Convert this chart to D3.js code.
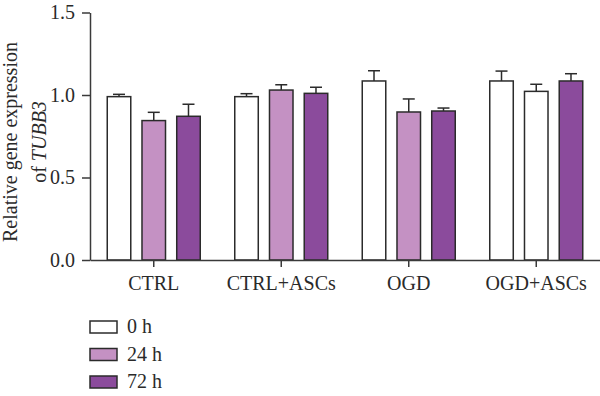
<!DOCTYPE html>
<html lang="en">
<head>
<meta charset="UTF-8">
<title>Relative gene expression of TUBB3</title>
<script src="https://d3js.org/d3.v7.min.js"></script>
<style>
  body { margin: 0; background: #fff; }
  svg { display: block; font-family: "Liberation Serif", "DejaVu Serif", serif; }
  .axis path, .axis line { stroke: #3a3a3a; stroke-width: 1.5; }
  .axis text { font-size: 20px; fill: #2a2a2a; font-family: "Liberation Serif", serif; }
</style>
</head>
<body>
<svg id="chart" width="600" height="396"></svg>
<script>
// groups and time points
const groups = ["CTRL", "CTRL+ASCs", "OGD", "OGD+ASCs"];
const series = ["0 h", "24 h", "72 h"];

// mean values, one array per time point (in group order)
const mean0h  = [0.99, 0.99, 1.085, 1.085];
const mean24h = [0.845, 1.03, 0.897, 1.022];
const mean72h = [0.871, 1.01, 0.903, 1.085];

// upper error (SD) per time point
const err0h  = [0.014, 0.018, 0.062, 0.06];
const err24h = [0.05, 0.032, 0.079, 0.043];
const err72h = [0.073, 0.037, 0.018, 0.044];

const yTicks = [0, 0.5, 1.0, 1.5];

const colors = { "0 h": "#ffffff", "24 h": "#c491c3", "72 h": "#8b4b9c" };
// the reference draws this one bar unfilled
const unfilled = [["OGD+ASCs", "24 h"]];

const means = [mean0h, mean24h, mean72h];
const errs = [err0h, err24h, err72h];
const rows = [];
groups.forEach((g, gi) => {
  series.forEach((s, si) => {
    rows.push({ group: g, series: s, value: means[si][gi], err: errs[si][gi] });
  });
});

const svg = d3.select("#chart");
const x0 = d3.scaleBand().domain(groups).range([90, 600]).padding(0);
const x1 = d3.scaleBand().domain(series).range([-46.5, 46.5]).paddingInner(0.323).paddingOuter(0);
const y = d3.scaleLinear().domain([0, 1.5]).range([260, 12.5]);

// y axis
svg.append("g").attr("class", "axis")
  .attr("transform", "translate(90,0)")
  .call(d3.axisLeft(y).tickValues(yTicks).tickFormat(d3.format(".1f")).tickSize(8).tickSizeOuter(0).tickPadding(7));

// bars
const fillOf = d => unfilled.some(u => u[0] === d.group && u[1] === d.series) ? "#ffffff" : colors[d.series];
svg.append("g").selectAll("rect").data(rows).enter().append("rect")
  .attr("x", d => x0(d.group) + x0.bandwidth() / 2 + x1(d.series))
  .attr("y", d => y(d.value))
  .attr("width", x1.bandwidth())
  .attr("height", d => y(0) - y(d.value))
  .attr("fill", fillOf)
  .attr("stroke", "#2b2b2b")
  .attr("stroke-width", 1.5);

// error bars (upper only)
const eb = svg.append("g").attr("stroke", "#2b2b2b").attr("stroke-width", 1.5);
rows.forEach(d => {
  const cx = x0(d.group) + x0.bandwidth() / 2 + x1(d.series) + x1.bandwidth() / 2;
  eb.append("line").attr("x1", cx).attr("x2", cx).attr("y1", y(d.value)).attr("y2", y(d.value + d.err));
  eb.append("line").attr("x1", cx - 6).attr("x2", cx + 6).attr("y1", y(d.value + d.err)).attr("y2", y(d.value + d.err));
});

// x axis
const xAxis = svg.append("g").attr("class", "axis")
  .attr("transform", `translate(0,${y(0)})`)
  .call(d3.axisBottom(x0).tickSize(7).tickSizeOuter(0).tickPadding(9));
xAxis.selectAll("text").attr("dy", "0.71em");

// y axis title
const title = svg.append("text")
  .attr("transform", "translate(17,142) rotate(-90)")
  .attr("text-anchor", "middle")
  .attr("font-size", 20).attr("fill", "#2a2a2a");
title.append("tspan").attr("x", 0).attr("y", 0).text("Relative gene expression");
const t2 = title.append("tspan").attr("x", 0).attr("y", 29);
t2.append("tspan").text("of ");
t2.append("tspan").attr("font-style", "italic").text("TUBB3");

// legend
const legend = svg.append("g").attr("transform", "translate(90,321)");
series.forEach((s, i) => {
  const g = legend.append("g").attr("transform", `translate(0,${i * 27.5})`);
  g.append("rect").attr("width", 27).attr("height", 12)
    .attr("fill", colors[s]).attr("stroke", "#2b2b2b").attr("stroke-width", 1.5);
  g.append("text").attr("x", 37).attr("y", 12)
    .attr("font-size", 20).attr("fill", "#2a2a2a").text(s);
});
</script>
</body>
</html>
